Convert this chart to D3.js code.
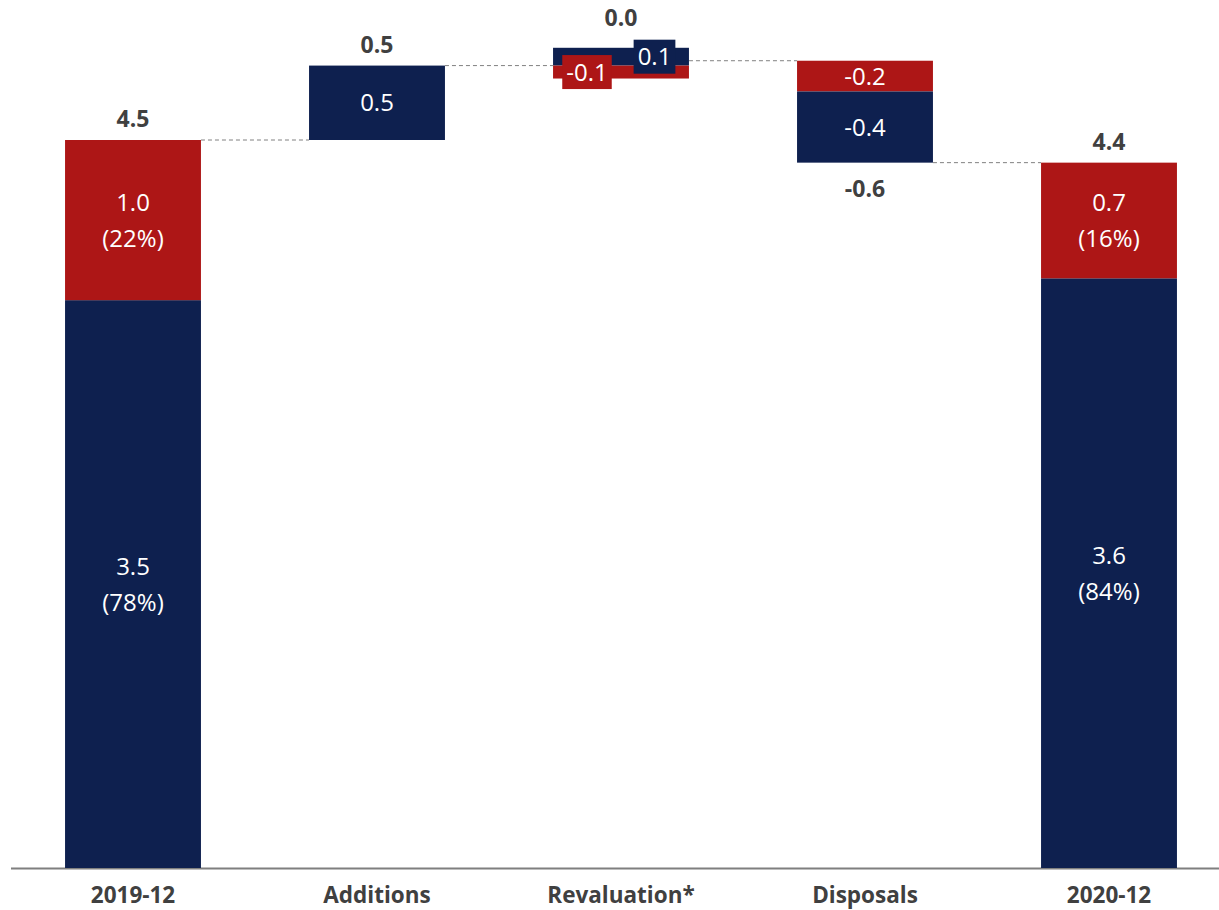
<!DOCTYPE html>
<html><head><meta charset="utf-8">
<script src="https://cdn.jsdelivr.net/npm/d3@7"></script>
<style>body{margin:0;background:#fff;} text{font-family:"Open Sans", sans-serif;}</style>
</head><body>
<svg id="c" width="1219" height="910"></svg>
<script>
const categories = ["2019-12","Additions","Revaluation*","Disposals","2020-12"];
const kinds      = ["total","delta","delta","delta","total"];
const navyValues = [3.51, 0.46, 0.11, -0.44, 3.645];
const redValues  = [0.99, 0.00, -0.08, -0.19, 0.715];

const NAVY = "#0e204f", RED = "#ad1616", GREY = "#404040";
const svg = d3.select("#c");
const x = d3.scaleBand().domain(categories).range([11, 1231]).paddingInner(0.443).paddingOuter(0.2215);
const y = d3.scaleLinear().domain([0, 4.5]).range([868, 140]);
const fmt = v => (Math.round(v * 10) / 10).toFixed(1);

let level = 0;
const bars = categories.map((c, i) => {
  const segs = [];
  if (kinds[i] === "total") {
    const nv = navyValues[i], rv = redValues[i], tot = nv + rv;
    segs.push({color: NAVY, y0: 0, y1: nv, v: nv, pct: nv / tot});
    segs.push({color: RED, y0: nv, y1: tot, v: rv, pct: rv / tot});
    level = tot;
    return {c, i, segs, top: tot, bottom: 0, net: tot, kind: "total", endLevel: tot};
  } else {
    const base = level;
    let up = base, down = base;
    const vals = [{color: NAVY, v: navyValues[i]}, {color: RED, v: redValues[i]}];
    vals.filter(d => d.v > 0).forEach(d => { segs.push({color: d.color, y0: up, y1: up + d.v, v: d.v}); up += d.v; });
    vals.filter(d => d.v < 0).sort((a, b) => (a.color === RED ? -1 : 1)).forEach(d => { segs.push({color: d.color, y0: down + d.v, y1: down, v: d.v}); down += d.v; });
    const net = navyValues[i] + redValues[i];
    level = base + net;
    return {c, i, segs, top: up, bottom: down, net, kind: "delta", endLevel: level};
  }
});

svg.append("line").attr("x1", 11).attr("x2", 1219).attr("y1", y(0) + 0.5).attr("y2", y(0) + 0.5)
  .attr("stroke", "#7f7f7f").attr("stroke-width", 2);

bars.slice(0, -1).forEach((b, k) => {
  svg.append("line")
    .attr("x1", x(b.c) + x.bandwidth()).attr("x2", x(bars[k + 1].c))
    .attr("y1", y(b.endLevel)).attr("y2", y(b.endLevel))
    .attr("stroke", "#808080").attr("stroke-width", 1).attr("stroke-dasharray", "4,3");
});

bars.forEach(b => {
  const g = svg.append("g");
  b.segs.forEach(s => {
    g.append("rect").attr("x", x(b.c)).attr("width", x.bandwidth())
      .attr("y", y(s.y1)).attr("height", y(s.y0) - y(s.y1)).attr("fill", s.color);
  });
});

const FS = 24;
bars.forEach(b => {
  const cx = x(b.c) + x.bandwidth() / 2;
  b.segs.forEach(s => {
    const h = y(s.y0) - y(s.y1);
    const cy = (y(s.y0) + y(s.y1)) / 2;
    if (b.kind === "total") {
      const t = svg.append("text").attr("x", cx).attr("text-anchor", "middle").attr("fill", "#fff").attr("font-size", FS);
      t.append("tspan").attr("x", cx).attr("y", cy - 18 + 8.5).text(fmt(s.v));
      t.append("tspan").attr("x", cx).attr("y", cy + 18 + 8.5).text("(" + Math.round(s.pct * 100) + "%)");
    } else if (h >= 28) {
      svg.append("text").attr("x", cx).attr("y", cy + 8.5).attr("text-anchor", "middle")
        .attr("fill", "#fff").attr("font-size", FS).text(fmt(s.v));
    } else {
      const dx = s.color === RED ? -34 : 33.5;
      const t = svg.append("text").attr("x", cx + dx).attr("y", cy + 8.5).attr("text-anchor", "middle")
        .attr("fill", "#fff").attr("font-size", FS).text(fmt(s.v));
      const bb = t.node().getBBox();
      svg.insert("rect", function () { return t.node(); })
        .attr("x", bb.x - 4).attr("y", cy - 17).attr("width", bb.width + 8).attr("height", 34).attr("fill", s.color);
    }
  });
});

bars.forEach(b => {
  const cx = x(b.c) + x.bandwidth() / 2;
  let ty;
  if (b.net >= 0) {
    let top = y(b.top);
    if (b.kind === "delta" && b.segs.some(s => y(s.y0) - y(s.y1) < 28)) top = y(b.top) - 9;
    ty = top - 13;
  } else {
    ty = y(b.bottom) + 34;
  }
  svg.append("text").attr("x", cx).attr("y", ty).attr("text-anchor", "middle")
    .attr("fill", GREY).attr("font-size", 23).attr("font-weight", "bold").text(fmt(b.net));
});

svg.selectAll(".cat").data(categories).enter().append("text")
  .attr("x", d => x(d) + x.bandwidth() / 2).attr("y", 903).attr("text-anchor", "middle")
  .attr("fill", GREY).attr("font-size", 22.5).attr("font-weight", "bold").text(d => d);
</script>
</body></html>
